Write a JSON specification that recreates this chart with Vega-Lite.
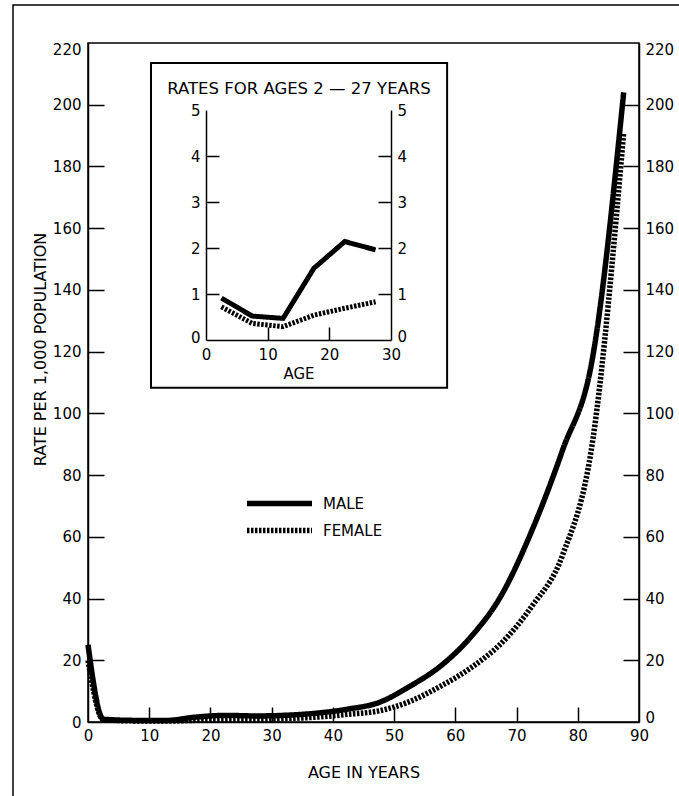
{
  "$schema": "https://vega.github.io/schema/vega-lite/v6.json",
  "width": 551,
  "height": 679,
  "autosize": {"type": "none"},
  "padding": {"left": 88, "top": 43, "right": 40, "bottom": 74},
  "background": "white",
  "data": {"values": [{}]},
  "config": {
    "view": {"stroke": "black", "strokeWidth": 1.5},
    "font": "DejaVu Sans",
    "axis": {
      "domainColor": "black", "tickColor": "black", "labelColor": "black", "titleColor": "black",
      "labelFont": "DejaVu Sans", "titleFont": "DejaVu Sans", "labelFontSize": 15, "titleFontSize": 16,
      "titleFontWeight": "normal", "grid": false, "domainWidth": 1.5, "tickWidth": 1.5, "labelFlush": false, "labelOverlap": false, "zindex": 1
    },
    "legend": {"labelFont": "DejaVu Sans", "labelFontSize": 15, "labelColor": "black"}
  },
  "datasets": {
    "main": [
      {"age": 0, "rate": 25, "sex": "MALE"},
      {"age": 2.5, "rate": 0.91, "sex": "MALE"},
      {"age": 7.5, "rate": 0.52, "sex": "MALE"},
      {"age": 12.5, "rate": 0.47, "sex": "MALE"},
      {"age": 17.5, "rate": 1.56, "sex": "MALE"},
      {"age": 22.5, "rate": 2.14, "sex": "MALE"},
      {"age": 27.5, "rate": 1.96, "sex": "MALE"},
      {"age": 32.5, "rate": 2.2, "sex": "MALE"},
      {"age": 37.5, "rate": 2.9, "sex": "MALE"},
      {"age": 42.5, "rate": 4.2, "sex": "MALE"},
      {"age": 47.5, "rate": 6.3, "sex": "MALE"},
      {"age": 52.5, "rate": 11.5, "sex": "MALE"},
      {"age": 57.5, "rate": 18, "sex": "MALE"},
      {"age": 62.5, "rate": 27.5, "sex": "MALE"},
      {"age": 67.5, "rate": 41, "sex": "MALE"},
      {"age": 72.5, "rate": 62, "sex": "MALE"},
      {"age": 77.5, "rate": 88, "sex": "MALE"},
      {"age": 82.5, "rate": 119, "sex": "MALE"},
      {"age": 87.5, "rate": 204, "sex": "MALE"},
      {"age": 0, "rate": 20, "sex": "FEMALE"},
      {"age": 2.5, "rate": 0.72, "sex": "FEMALE"},
      {"age": 7.5, "rate": 0.36, "sex": "FEMALE"},
      {"age": 12.5, "rate": 0.29, "sex": "FEMALE"},
      {"age": 17.5, "rate": 0.54, "sex": "FEMALE"},
      {"age": 22.5, "rate": 0.69, "sex": "FEMALE"},
      {"age": 27.5, "rate": 0.83, "sex": "FEMALE"},
      {"age": 32.5, "rate": 1.1, "sex": "FEMALE"},
      {"age": 37.5, "rate": 1.6, "sex": "FEMALE"},
      {"age": 42.5, "rate": 2.5, "sex": "FEMALE"},
      {"age": 47.5, "rate": 3.6, "sex": "FEMALE"},
      {"age": 52.5, "rate": 6.6, "sex": "FEMALE"},
      {"age": 57.5, "rate": 11.5, "sex": "FEMALE"},
      {"age": 62.5, "rate": 17.5, "sex": "FEMALE"},
      {"age": 67.5, "rate": 25.5, "sex": "FEMALE"},
      {"age": 72.5, "rate": 37.5, "sex": "FEMALE"},
      {"age": 77.5, "rate": 54, "sex": "FEMALE"},
      {"age": 82.5, "rate": 92, "sex": "FEMALE"},
      {"age": 87.5, "rate": 191, "sex": "FEMALE"}
    ],
    "inset": [
      {"age": 2.5, "rate": 0.91, "sex": "MALE"},
      {"age": 7.5, "rate": 0.52, "sex": "MALE"},
      {"age": 12.5, "rate": 0.47, "sex": "MALE"},
      {"age": 17.5, "rate": 1.56, "sex": "MALE"},
      {"age": 22.5, "rate": 2.14, "sex": "MALE"},
      {"age": 27.5, "rate": 1.96, "sex": "MALE"},
      {"age": 2.5, "rate": 0.72, "sex": "FEMALE"},
      {"age": 7.5, "rate": 0.36, "sex": "FEMALE"},
      {"age": 12.5, "rate": 0.29, "sex": "FEMALE"},
      {"age": 17.5, "rate": 0.54, "sex": "FEMALE"},
      {"age": 22.5, "rate": 0.69, "sex": "FEMALE"},
      {"age": 27.5, "rate": 0.83, "sex": "FEMALE"}
    ]
  },
  "layer": [
    {
      "mark": {"type": "rect", "fill": "white", "fillOpacity": 0, "stroke": "black", "strokeWidth": 1.5, "clip": false},
      "encoding": {
        "x": {"datum": -12.25, "type": "quantitative", "scale": {"domain": [0, 90], "nice": false, "zero": false}, "axis": null},
        "x2": {"datum": 100},
        "y": {"datum": 232.3, "type": "quantitative", "scale": {"domain": [0, 220], "nice": false}, "axis": null},
        "y2": {"datum": -28.5}
      }
    },
    {
      "data": {"name": "main"},
      "mark": {"type": "line", "interpolate": "monotone", "stroke": "black", "strokeWidth": 5.5, "clip": false},
      "encoding": {
        "x": {"field": "age", "type": "quantitative",
              "scale": {"domain": [0, 90], "nice": false, "zero": false},
              "axis": {"orient": "bottom", "values": [0, 10, 20, 30, 40, 50, 60, 70, 80, 90], "ticks": false, "labelPadding": 6, "title": "AGE IN YEARS", "titleY": 50, "titleBaseline": "middle"}},
        "y": {"field": "rate", "type": "quantitative",
              "scale": {"domain": [0, 220], "nice": false},
              "axis": {"orient": "left", "values": [0, 20, 40, 60, 80, 100, 120, 140, 160, 180, 200, 220], "ticks": false, "labelPadding": 7, "title": "RATE PER 1,000 POPULATION", "titleX": -48, "titleY": 306, "titleAngle": 270, "titleBaseline": "middle", "titleAlign": "center",
                       "labelOffset": {"condition": {"test": "datum.value == 220", "value": 6}, "value": 0}}},
        "strokeDash": {"field": "sex", "type": "nominal",
              "scale": {"domain": ["MALE", "FEMALE"], "range": [[1, 0], [2.5, 1.5]]},
              "legend": {"orient": "none", "legendX": 156, "legendY": 447, "title": null, "symbolType": "stroke", "symbolSize": 4225, "symbolStrokeWidth": 5.5, "symbolStrokeColor": "black", "clipHeight": 27, "labelOffset": 8, "rowPadding": 0}},
        "order": {"field": "age", "type": "quantitative"}
      }
    },
    {
      "data": {"name": "main"},
      "mark": {"type": "point", "opacity": 0},
      "encoding": {
        "x": {"field": "age", "type": "quantitative", "scale": {"domain": [0, 90], "nice": false, "zero": false}, "axis": null},
        "y": {"field": "rate", "type": "quantitative",
              "scale": {"domain": [0, 220], "nice": false},
              "axis": {"orient": "right", "values": [0, 20, 40, 60, 80, 100, 120, 140, 160, 180, 200, 220], "ticks": false, "labelPadding": 6, "title": null,
                       "labelOffset": {"condition": [{"test": "datum.value == 220", "value": 6}, {"test": "datum.value == 0", "value": -5}], "value": 0}}}
      }
    },
    {
      "mark": {"type": "point", "opacity": 0},
      "encoding": {
        "x": {"datum": 0, "type": "quantitative", "scale": {"domain": [0, 90], "nice": false, "zero": false},
              "axis": {"orient": "bottom", "offset": -15, "tickSize": 15, "labels": false, "domain": false, "values": [10, 20, 30, 40, 50, 60, 70, 80], "title": null}},
        "y": {"datum": 0, "type": "quantitative", "scale": {"domain": [0, 220], "nice": false},
              "axis": {"orient": "left", "offset": -16, "tickSize": 16, "labels": false, "domain": false, "values": [20, 40, 60, 80, 100, 120, 140, 160, 180, 200], "title": null}}
      }
    },
    {
      "mark": {"type": "point", "opacity": 0},
      "encoding": {
        "x": {"datum": 0, "type": "quantitative", "scale": {"domain": [0, 90], "nice": false, "zero": false}, "axis": null},
        "y": {"datum": 0, "type": "quantitative", "scale": {"domain": [0, 220], "nice": false},
              "axis": {"orient": "right", "offset": -16, "tickSize": 16, "labels": false, "domain": false, "values": [20, 40, 60, 80, 100, 120, 140, 160, 180, 200], "title": null}}
      }
    },
    {
      "mark": {"type": "rect", "fill": "white", "fillOpacity": 0, "stroke": "black", "strokeWidth": 2, "clip": false},
      "encoding": {
        "x": {"datum": -8.92, "type": "quantitative", "scale": {"domain": [0, 30], "range": [118, 303], "nice": false, "zero": false}, "axis": null},
        "x2": {"datum": 39.1},
        "y": {"datum": 6.02, "type": "quantitative", "scale": {"domain": [0, 5], "range": [297, 67], "nice": false}, "axis": null},
        "y2": {"datum": -1.04}
      }
    },
    {
      "mark": {"type": "text", "fontSize": 16.5, "font": "DejaVu Sans", "color": "black", "align": "center", "baseline": "middle"},
      "encoding": {
        "x": {"datum": 15.08, "type": "quantitative", "scale": {"domain": [0, 30], "range": [118, 303], "nice": false, "zero": false}, "axis": null},
        "y": {"datum": 5.46, "type": "quantitative", "scale": {"domain": [0, 5], "range": [297, 67], "nice": false}, "axis": null},
        "text": {"value": "RATES FOR AGES 2 — 27 YEARS"}
      }
    },
    {
      "data": {"name": "inset"},
      "mark": {"type": "line", "stroke": "black", "strokeWidth": 5, "clip": false},
      "encoding": {
        "x": {"field": "age", "type": "quantitative",
              "scale": {"domain": [0, 30], "range": [118, 303], "nice": false, "zero": false},
              "axis": {"orient": "bottom", "offset": -382, "values": [0, 10, 20, 30], "ticks": false, "labelPadding": 7, "title": "AGE", "titleY": 33, "titleBaseline": "middle", "titleFontSize": 15}},
        "y": {"field": "rate", "type": "quantitative",
              "scale": {"domain": [0, 5], "range": [297, 67], "nice": false},
              "axis": {"orient": "left", "offset": -118, "values": [0, 1, 2, 3, 4, 5], "ticks": false, "labelPadding": 6, "title": null,
                       "labelOffset": {"condition": {"test": "datum.value == 0", "value": -3}, "value": 0}}},
        "strokeDash": {"field": "sex", "type": "nominal", "scale": {"domain": ["MALE", "FEMALE"], "range": [[1, 0], [2.5, 1.5]]}},
        "order": {"field": "age", "type": "quantitative"}
      }
    },
    {
      "data": {"name": "inset"},
      "mark": {"type": "point", "opacity": 0},
      "encoding": {
        "x": {"field": "age", "type": "quantitative", "scale": {"domain": [0, 30], "range": [118, 303], "nice": false, "zero": false}, "axis": null},
        "y": {"field": "rate", "type": "quantitative",
              "scale": {"domain": [0, 5], "range": [297, 67], "nice": false},
              "axis": {"orient": "right", "offset": -248, "values": [0, 1, 2, 3, 4, 5], "ticks": false, "labelPadding": 6, "title": null,
                       "labelOffset": {"condition": {"test": "datum.value == 0", "value": -4}, "value": 0}}}
      }
    },
    {
      "mark": {"type": "point", "opacity": 0},
      "encoding": {
        "x": {"datum": 0, "type": "quantitative", "scale": {"domain": [0, 30], "range": [118, 303], "nice": false, "zero": false},
              "axis": {"orient": "bottom", "offset": -395, "tickSize": 13, "labels": false, "domain": false, "values": [10, 20], "title": null}},
        "y": {"datum": 0, "type": "quantitative", "scale": {"domain": [0, 5], "range": [297, 67], "nice": false},
              "axis": {"orient": "left", "offset": -131, "tickSize": 13, "labels": false, "domain": false, "values": [1, 2, 3, 4], "title": null}}
      }
    },
    {
      "mark": {"type": "point", "opacity": 0},
      "encoding": {
        "x": {"datum": 0, "type": "quantitative", "scale": {"domain": [0, 30], "range": [118, 303], "nice": false, "zero": false}, "axis": null},
        "y": {"datum": 0, "type": "quantitative", "scale": {"domain": [0, 5], "range": [297, 67], "nice": false},
              "axis": {"orient": "right", "offset": -261, "tickSize": 13, "labels": false, "domain": false, "values": [1, 2, 3, 4], "title": null}}
      }
    }
  ],
  "resolve": {"scale": {"x": "independent", "y": "independent"}}
}
